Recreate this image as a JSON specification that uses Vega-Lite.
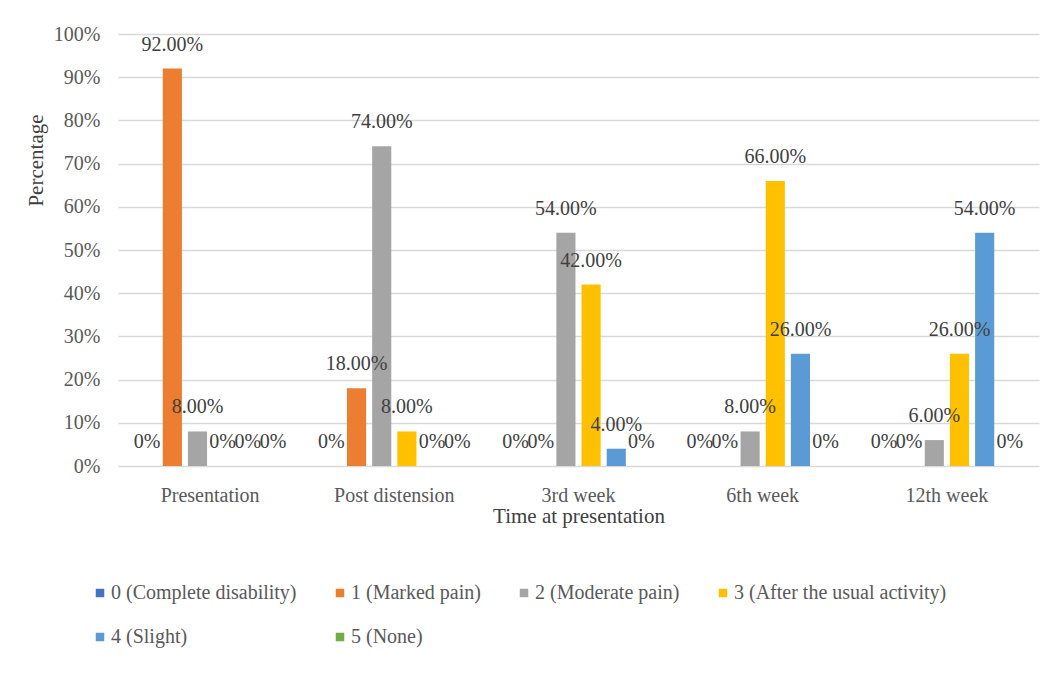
{
  "$schema": "https://vega.github.io/schema/vega-lite/v6.json",
  "width": 921,
  "height": 432,
  "autosize": {"type": "none"},
  "padding": {"left": 118, "top": 34, "right": 12, "bottom": 207},
  "background": "white",
  "config": {"view": {"stroke": null}, "font": "Liberation Serif"},
  "data": {
    "values": [
      {"time": "Presentation", "grade": "0 (Complete disability)", "value": 0},
      {"time": "Presentation", "grade": "1 (Marked pain)", "value": 0.92},
      {"time": "Presentation", "grade": "2 (Moderate pain)", "value": 0.08},
      {"time": "Presentation", "grade": "3 (After the usual activity)", "value": 0},
      {"time": "Presentation", "grade": "4 (Slight)", "value": 0},
      {"time": "Presentation", "grade": "5 (None)", "value": 0},
      {"time": "Post distension", "grade": "0 (Complete disability)", "value": 0},
      {"time": "Post distension", "grade": "1 (Marked pain)", "value": 0.18},
      {"time": "Post distension", "grade": "2 (Moderate pain)", "value": 0.74},
      {"time": "Post distension", "grade": "3 (After the usual activity)", "value": 0.08},
      {"time": "Post distension", "grade": "4 (Slight)", "value": 0},
      {"time": "Post distension", "grade": "5 (None)", "value": 0},
      {"time": "3rd week", "grade": "0 (Complete disability)", "value": 0},
      {"time": "3rd week", "grade": "1 (Marked pain)", "value": 0},
      {"time": "3rd week", "grade": "2 (Moderate pain)", "value": 0.54},
      {"time": "3rd week", "grade": "3 (After the usual activity)", "value": 0.42},
      {"time": "3rd week", "grade": "4 (Slight)", "value": 0.04},
      {"time": "3rd week", "grade": "5 (None)", "value": 0},
      {"time": "6th week", "grade": "0 (Complete disability)", "value": 0},
      {"time": "6th week", "grade": "1 (Marked pain)", "value": 0},
      {"time": "6th week", "grade": "2 (Moderate pain)", "value": 0.08},
      {"time": "6th week", "grade": "3 (After the usual activity)", "value": 0.66},
      {"time": "6th week", "grade": "4 (Slight)", "value": 0.26},
      {"time": "6th week", "grade": "5 (None)", "value": 0},
      {"time": "12th week", "grade": "0 (Complete disability)", "value": 0},
      {"time": "12th week", "grade": "1 (Marked pain)", "value": 0},
      {"time": "12th week", "grade": "2 (Moderate pain)", "value": 0.06},
      {"time": "12th week", "grade": "3 (After the usual activity)", "value": 0.26},
      {"time": "12th week", "grade": "4 (Slight)", "value": 0.54},
      {"time": "12th week", "grade": "5 (None)", "value": 0}
    ]
  },
  "encoding": {
    "x": {
      "field": "time",
      "type": "nominal",
      "sort": ["Presentation", "Post distension", "3rd week", "6th week", "12th week"],
      "scale": {"paddingInner": 0.18, "paddingOuter": 0.09},
      "axis": {
        "title": "Time at presentation",
        "labelAngle": 0,
        "ticks": false,
        "domain": false,
        "labelPadding": 19,
        "labelFontSize": 20,
        "labelColor": "#595959",
        "titleFontSize": 21,
        "titleFontWeight": "normal",
        "titleColor": "#404040",
        "titlePadding": 0
      }
    },
    "xOffset": {
      "field": "grade",
      "type": "nominal",
      "sort": ["0 (Complete disability)", "1 (Marked pain)", "2 (Moderate pain)", "3 (After the usual activity)", "4 (Slight)", "5 (None)"],
      "scale": {"paddingInner": 0.24, "paddingOuter": 0.12}
    },
    "y": {
      "field": "value",
      "type": "quantitative",
      "scale": {"domain": [0, 1]},
      "axis": {
        "title": "Percentage",
        "format": ".0%",
        "values": [0, 0.1, 0.2, 0.3, 0.4, 0.5, 0.6, 0.7, 0.8, 0.9, 1],
        "labelOverlap": false,
        "ticks": false,
        "domain": false,
        "labelPadding": 18,
        "labelFontSize": 20,
        "labelColor": "#595959",
        "gridColor": "#d9d9d9",
        "gridWidth": 1.5,
        "titleFontSize": 21,
        "titleFontWeight": "normal",
        "titleColor": "#404040",
        "titleAngle": 270,
        "titleAlign": "center",
        "titleBaseline": "middle",
        "titleX": -82,
        "titleY": 126
      }
    }
  },
  "layer": [
    {
      "mark": {"type": "bar"},
      "encoding": {
        "color": {
          "field": "grade",
          "type": "nominal",
          "sort": ["0 (Complete disability)", "1 (Marked pain)", "2 (Moderate pain)", "3 (After the usual activity)", "4 (Slight)", "5 (None)"],
          "scale": {
            "domain": ["0 (Complete disability)", "1 (Marked pain)", "2 (Moderate pain)", "3 (After the usual activity)", "4 (Slight)", "5 (None)"],
            "range": ["#4472C4", "#ED7D31", "#A5A5A5", "#FFC000", "#5B9BD5", "#70AD47"]
          },
          "legend": {
            "title": null,
            "orient": "none",
            "legendX": -28,
            "legendY": 549,
            "direction": "horizontal",
            "columns": 4,
            "columnPadding": 33,
            "rowPadding": 24,
            "symbolType": "square",
            "symbolSize": 72,
            "symbolStrokeWidth": 0,
            "labelFontSize": 20,
            "labelLimit": 0,
            "labelColor": "#595959",
            "labelOffset": 1
          }
        }
      }
    },
    {
      "mark": {"type": "text", "baseline": "middle", "dy": -24, "fontSize": 20, "color": "#404040"},
      "encoding": {
        "text": {
          "condition": {"test": "datum.value == 0", "value": "0%"},
          "field": "value",
          "type": "quantitative",
          "format": ".2%"
        }
      }
    }
  ]
}
